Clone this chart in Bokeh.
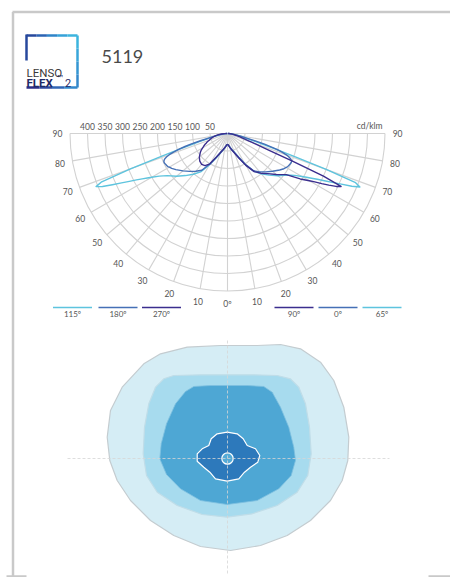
import numpy as np
from bokeh.plotting import figure
from bokeh.models import Range1d
from bokeh.core.properties import value
from bokeh.embed import file_html
from bokeh.resources import INLINE

# ------------------------------------------------------------------ data
model_name = "5119"

# polar intensity diagram (cd/klm) vs. gamma angle (deg from nadir)
gamma = [0, 5, 10, 15, 20, 25, 30, 35, 40, 45, 50, 55, 58, 60,
         61, 62, 63, 64, 65, 66, 67, 68, 69, 70, 71, 72, 73, 74, 75,
         77.5, 80, 82.5, 85, 87.5, 90]
c65 = [31, 34, 40, 48, 58, 75, 103, 132, 150, 168, 188, 207, 226, 246,
       258, 272, 288, 308, 330, 356, 386, 408, 392, 300, 205, 145, 108, 82, 64,
       40, 26, 16, 9, 4, 1]
c115 = [31, 34, 41, 49, 60, 77, 104, 134, 152, 170, 190, 210, 230, 250,
        262, 276, 292, 312, 334, 360, 388, 405, 385, 295, 200, 142, 105, 80, 62,
        39, 25, 15, 8, 4, 1]
c0 = [31, 34, 40, 48, 58, 74, 102, 130, 143, 155, 168, 182, 190, 194,
      196, 197, 198, 199, 200, 200, 199, 195, 188, 180, 166, 150, 130, 110, 82,
      45, 28, 18, 10, 5, 1]
c180 = [31, 34, 40, 47, 57, 73, 100, 128, 141, 153, 166, 180, 188, 192,
        195, 196, 197, 198, 199, 199, 197, 193, 186, 177, 163, 147, 127, 107, 80,
        44, 27, 17, 10, 5, 1]
c90 = [31, 34, 41, 49, 60, 78, 105, 133, 148, 162, 182, 205, 245, 270,
       285, 305, 325, 345, 358, 300, 200, 130, 95, 75, 62, 52, 45, 40, 35,
       27, 20, 14, 9, 4, 1]
c270 = [31, 34, 40, 48, 58, 74, 100, 112, 115, 112, 105, 95, 88, 82,
        79, 77, 74, 72, 69, 66, 64, 61, 58, 55, 53, 51, 49, 47, 45,
        40, 34, 26, 17, 8, 1]

ring_values = [50, 100, 150, 200, 250, 300, 350, 400, 450]
ring_labels = ["50", "100", "150", "200", "250", "300", "350", "400"]
angle_ticks = [0, 10, 20, 30, 40, 50, 60, 70, 80, 90]
unit_label = "cd/klm"
legend_left = ["115º", "180º", "270º"]
legend_right = ["90º", "0º", "65º"]

# isolux diagram contours (x, y in diagram units)
iso1_x = [-8.37, -6.70, -4.03, -0.70, 2.97, 5.30, 7.30, 9.30, 10.63, 11.63, 12.13,
          12.03, 11.47, 10.30, 8.30, 5.97, 3.30, 0.30, -2.70, -5.37, -7.70, -9.70,
          -11.03, -11.77, -12.03, -11.70, -10.53]
iso1_y = [9.47, 10.47, 11.13, 11.30, 11.30, 11.40, 10.97, 9.63, 7.80, 5.13, 2.13,
          -0.20, -2.20, -4.20, -6.20, -7.70, -8.70, -9.20, -8.80, -7.70, -6.20, -4.20,
          -2.20, -0.20, 2.13, 4.80, 7.13]
iso2_x = [-5.37, -2.70, -0.03, 2.63, 4.97, 6.30, 7.13, 7.80, 8.20, 8.37, 8.03, 6.97,
          4.97, 2.47, -0.03, -2.53, -5.03, -7.03, -8.10, -8.43, -8.30, -7.87, -7.20,
          -6.37]
iso2_y = [8.30, 8.37, 8.37, 8.37, 8.30, 7.97, 7.13, 5.47, 3.13, 0.47, -1.70, -3.37,
          -4.70, -5.53, -5.87, -5.60, -4.70, -3.37, -1.70, 0.47, 3.13, 5.47, 7.13,
          7.97]
iso3_x = [-3.37, -1.70, -0.03, 1.97, 3.63, 4.47, 5.30, 6.13, 6.63, 6.80, 6.37, 5.13,
          2.97, -0.03, -2.70, -4.70, -6.10, -6.77, -6.63, -6.10, -5.20, -4.20]
iso3_y = [7.20, 7.30, 7.30, 7.30, 7.20, 6.63, 5.13, 3.13, 1.13, -0.20, -1.70, -3.03,
          -4.20, -4.60, -4.20, -3.03, -1.60, -0.03, 1.47, 3.47, 5.47, 6.70]
iso4_x = [-0.03, 0.97, 1.57, 1.97, 2.80, 3.23, 3.03, 2.30, 1.70, 1.13, -0.03, -1.20,
          -1.77, -2.37, -3.03, -3.03, -2.53, -1.87, -1.63, -1.03]
iso4_y = [2.63, 2.47, 1.97, 1.30, 0.97, 0.30, -0.37, -0.87, -1.37, -2.03, -2.27,
          -2.03, -1.37, -0.87, -0.27, 0.47, 0.97, 1.30, 1.97, 2.47]
iso_core_radius = 0.57

# ------------------------------------------------------------------ figure
W, H = 450, 577
CX, CY, PX_PER_CD = 227.0, 133.0, 0.35        # polar diagram placement
IX, IY, PX_PER_U = 227.0, 458.0, 10.0         # isolux diagram placement

p = figure(width=W, height=H, output_backend="svg", toolbar_location=None,
           x_range=Range1d(-CX / PX_PER_CD, (W - CX) / PX_PER_CD),
           y_range=Range1d(-(H - CY) / PX_PER_CD, CY / PX_PER_CD),
           x_axis_location=None, y_axis_location=None, min_border=0)
p.outline_line_color = None
p.grid.visible = False
p.background_fill_color = "white"
p.border_fill_color = "white"
p.extra_x_ranges = {"px": Range1d(0, W),
                    "iso": Range1d(-IX / PX_PER_U, (W - IX) / PX_PER_U)}
p.extra_y_ranges = {"px": Range1d(H, 0),
                    "iso": Range1d(-(H - IY) / PX_PER_U, IY / PX_PER_U)}

FONT = value("Lato")
TXT = "#555555"
PX = dict(x_range_name="px", y_range_name="px")

# ---------------------------------------------------------------- frame
frame_c = "#c9c9c9"
p.segment(x0=[12, 12.5, 6, 428], y0=[11.5, 11.5, 576, 576],
          x1=[450, 12.5, 26, 450], y1=[11.5, 577, 576, 576],
          line_color=frame_c, line_width=2.5, **PX)

# ---------------------------------------------------------------- logo
top_cols = ["#27489c", "#2b63b3", "#2f84c8", "#36a2d8", "#3cb4de"]
xs = np.linspace(26, 77, len(top_cols) + 1)
p.segment(x0=xs[:-1], y0=[35] * len(top_cols), x1=xs[1:], y1=[35] * len(top_cols),
          line_color=top_cols, line_width=2.5, **PX)
right_cols = ["#3cb4de", "#38a6da", "#3596d2", "#3388cb"]
ys = np.linspace(35, 87, len(right_cols) + 1)
p.segment(x0=[77] * len(right_cols), y0=ys[:-1], x1=[77] * len(right_cols), y1=ys[1:],
          line_color=right_cols, line_width=2.5, **PX)
bot_cols = ["#2c2d86", "#2f4aa0", "#3166b6", "#3388cb"]
xs = np.linspace(26, 77, len(bot_cols) + 1)
p.segment(x0=xs[:-1], y0=[87] * len(bot_cols), x1=xs[1:], y1=[87] * len(bot_cols),
          line_color=bot_cols, line_width=2.5, **PX)
p.segment(x0=[26], y0=[34], x1=[26], y1=[60], line_color="#27489c", line_width=2.5, **PX)
p.text(x=[26], y=[72], text=["LENSO"], text_font=value("Roboto"), text_font_size="11.5px",
       text_color="#3a3a3a", text_baseline="alphabetic", text_align="left", **PX)
p.text(x=[26], y=[82], text=["FLEX"], text_font=value("Roboto"), text_font_size="11.5px",
       text_font_style="bold", text_color="#1f2a66", text_baseline="alphabetic",
       text_align="left", **PX)
p.text(x=[56], y=[78], text=["™"], text_font=value("DejaVu Sans"), text_font_size="8px",
       text_color="#1f2a66", text_baseline="alphabetic", text_align="left", **PX)
p.text(x=[64.5], y=[82], text=["2"], text_font=value("Roboto"), text_font_size="11px",
       text_color="#1f2a66", text_baseline="alphabetic", text_align="left", **PX)
p.text(x=[101], y=[55.5], text=[model_name], text_font=FONT,
       text_font_size="18px", text_color="#4a4a4a", text_baseline="alphabetic",
       text_align="left", **PX)

# ---------------------------------------------------------------- polar grid
grid_c = "#d2d2d2"
R = ring_values[-1]
p.arc(x=[0] * len(ring_values), y=[0] * len(ring_values), radius=ring_values,
      start_angle=np.pi, end_angle=2 * np.pi, line_color=grid_c, line_width=1.1)
g_all = np.radians([-a for a in angle_ticks[::-1]] + angle_ticks[1:])
p.segment(x0=np.zeros(len(g_all)), y0=np.zeros(len(g_all)),
          x1=R * np.sin(g_all), y1=-R * np.cos(g_all), line_color=grid_c, line_width=1.1)

# ring labels (left) and unit (right)
p.text(x=[-v for v in ring_values[:len(ring_labels)]], y=[21.4] * len(ring_labels),
       text=ring_labels, text_font=FONT, text_font_size="8.5px", text_color=TXT,
       text_align="center", text_baseline="middle")
p.text(x=[443], y=[21.4], text=[unit_label], text_font=FONT, text_font_size="8.5px",
       text_color=TXT, text_align="right", text_baseline="middle")

# angle labels
LR = 486.0
ang_x, ang_y, ang_t = [], [], []
for a in angle_ticks:
    ga = np.radians(a)
    if a == 0:
        ang_x.append(0.0); ang_y.append(-LR); ang_t.append("0º")
    else:
        for s in (-1, 1):
            ang_x.append(s * LR * np.sin(ga)); ang_y.append(-LR * np.cos(ga)); ang_t.append(str(a))
p.text(x=ang_x, y=ang_y, text=ang_t, text_font=FONT, text_font_size="8.5px",
       text_color=TXT, text_align="center", text_baseline="middle")

# ---------------------------------------------------------------- curves
CYAN, BLUE, PURPLE = "#5ec4de", "#4570b6", "#3b2e8e"
g = np.radians(gamma)


def curve(vals, side):
    v = np.asarray(vals, float)
    return side * v * np.sin(g), -v * np.cos(g)


for vals, side, col in [(c115, -1, CYAN), (c65, 1, CYAN),
                        (c180, -1, BLUE), (c0, 1, BLUE),
                        (c270, -1, PURPLE), (c90, 1, PURPLE)]:
    x, y = curve(vals, side)
    p.line(x, y, line_color=col, line_width=1.4, line_join="round")

# ---------------------------------------------------------------- legend
leg_cols = [CYAN, BLUE, PURPLE, PURPLE, BLUE, CYAN]
leg_cx = [72, 117.5, 161, 293.5, 337.5, 381.5]
p.segment(x0=[c - 19.5 for c in leg_cx], y0=[307] * 6, x1=[c + 19.5 for c in leg_cx],
          y1=[307] * 6, line_color=leg_cols, line_width=1.6, **PX)
p.text(x=leg_cx, y=[313.5] * 6, text=legend_left + legend_right, text_font=FONT,
       text_font_size="8px", text_color=TXT, text_align="center", text_baseline="middle",
       **PX)

# ---------------------------------------------------------------- isolux
kw = dict(x_range_name="iso", y_range_name="iso")
p.patch(iso1_x, iso1_y, fill_color="#d5edf5", line_color="#c4ccd0", line_width=1.2, **kw)
p.patch(iso2_x, iso2_y, fill_color="#a7dbee", line_color="#c0dde8", line_width=1.2, **kw)
p.patch(iso3_x, iso3_y, fill_color="#4ea7d4", line_color="#7fc0df", line_width=0.8, **kw)
p.patch(iso4_x, iso4_y, fill_color="#2d79bb", line_color="white", line_width=1.2, **kw)
p.circle(x=[0], y=[0], radius=iso_core_radius, fill_color="#55abd7",
         line_color="white", line_width=1.2, **kw)
p.segment(x0=[-16.0, 0], y0=[0, 11.8], x1=[16.2, 0], y1=[0, -11.6],
          line_color="#d6d6d6", line_width=0.8, line_dash="3 2", **kw)

open("out.html", "w").write(file_html(p, INLINE))
